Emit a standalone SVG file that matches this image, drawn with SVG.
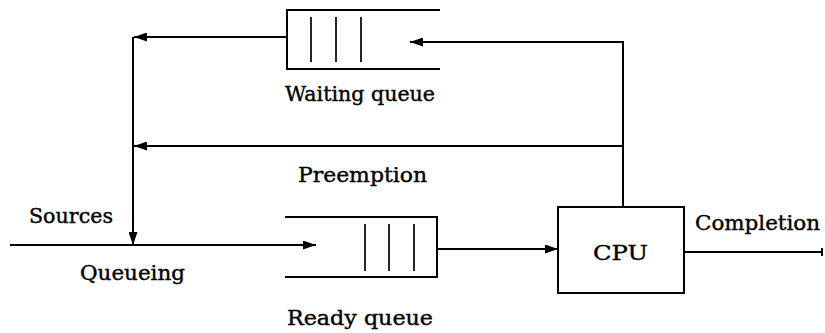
<svg xmlns="http://www.w3.org/2000/svg" width="825" height="333" viewBox="0 0 825 333">
<style>
.ln{fill:none;stroke:#000;stroke-width:2}
.bar{fill:none;stroke:#000;stroke-width:1.7}
.t{font-family:"DejaVu Serif","Liberation Serif",serif;font-size:21px;fill:#000;stroke:#000;stroke-width:0.4}
</style>
<defs>
<marker id="ah" viewBox="0 0 13 9" refX="13" refY="4.5" markerWidth="13" markerHeight="9" markerUnits="userSpaceOnUse" orient="auto">
<path d="M0,0 L13,4.5 L0,9 Z" fill="#000"/>
</marker>
</defs>
<rect width="825" height="333" fill="#fff"/>
<g id="waiting-queue">
<path class="ln" d="M440,10 H287 V69 H440"/>
<path class="bar" d="M311,17 V62 M336,17 V62 M361,17 V62"/>
<text class="t" x="285" y="101" textLength="150" lengthAdjust="spacingAndGlyphs">Waiting queue</text>
</g>
<g id="ready-queue">
<path class="ln" d="M285,217 H437 V277 H285"/>
<path class="bar" d="M365,224 V271 M389,224 V271 M414,224 V271"/>
<text class="t" x="287" y="325" textLength="146" lengthAdjust="spacingAndGlyphs">Ready queue</text>
</g>
<g id="cpu">
<rect class="ln" x="558" y="207" width="126" height="86"/>
<text class="t" x="593" y="260" textLength="55" lengthAdjust="spacingAndGlyphs">CPU</text>
</g>
<g id="connectors">
<path class="ln" d="M623,207 V42 H410" marker-end="url(#ah)"/>
<path class="ln" d="M287,37 H134" marker-end="url(#ah)"/>
<path class="ln" d="M133,37 V245" marker-end="url(#ah)"/>
<path class="ln" d="M623,146 H134" marker-end="url(#ah)"/>
<path class="ln" d="M10,245 H316" marker-end="url(#ah)"/>
<path class="ln" d="M437,249 H558" marker-end="url(#ah)"/>
<path class="ln" d="M684,252 H822 M822,248 V256"/>
</g>
<g id="labels">
<text class="t" x="298" y="182" textLength="129" lengthAdjust="spacingAndGlyphs">Preemption</text>
<text class="t" x="29" y="223" textLength="84" lengthAdjust="spacingAndGlyphs">Sources</text>
<text class="t" x="80" y="280" textLength="105" lengthAdjust="spacingAndGlyphs">Queueing</text>
<text class="t" x="695" y="230" textLength="125" lengthAdjust="spacingAndGlyphs">Completion</text>
</g>
</svg>
